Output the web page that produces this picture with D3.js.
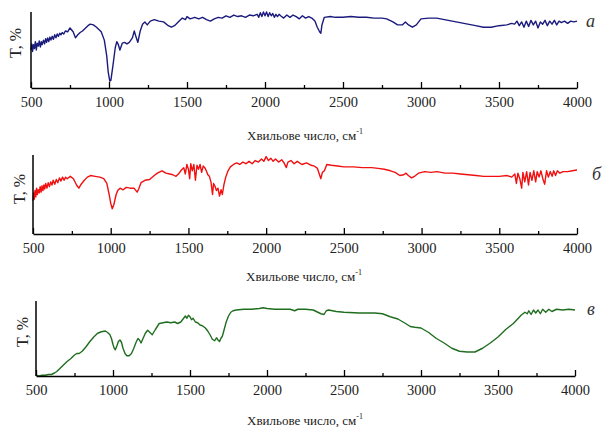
<!DOCTYPE html>
<html><head><meta charset="utf-8">
<script src="https://cdn.jsdelivr.net/npm/d3@7"></script>
<style>
body{margin:0;background:#fff;}
</style></head>
<body><svg id="c" width="604" height="427"></svg>
<script>
// Tick labels and axis texts
const majorTicks = [500,1000,1500,2000,2500,3000,3500,4000];
const minorTicks = [750,1250,1750,2250,2750,3250,3750];
const xTitle = "Хвильове число, см";
const xTitleSup = "-1";
const yTitle = "T, %";
const panelLetters = ["а","б","в"];
const seriesColors = ["#1b1b7d","#f01010","#1f6e1f"];

// Spectrum a: [wavenumber, T %]
const specA = [[500,50],[505,58],[510,48],[516,57],[522,52],[528,61],[534,50],[540,59],[547,55],[553,62],[560,54],[566,61],[572,57],[580,63],[587,58],[594,65],[600,60],[607,66],[614,61],[621,67],[628,63],[636,68],[644,64],[652,70],[660,66],[668,71],[676,68],[684,72],[692,70],[700,73],[710,71],[720,75],[735,74],[750,79],[770,74],[785,66],[800,70],[815,73],[830,75],[850,79],[865,82],[880,84],[900,83],[920,80],[950,74],[970,63],[985,43],[995,21],[1005,9],[1012,10],[1025,29],[1040,53],[1050,61],[1060,57],[1070,50],[1085,59],[1100,60],[1115,58],[1130,60],[1150,66],[1162,75],[1175,66],[1185,60],[1200,75],[1215,84],[1230,87],[1245,83],[1265,88],[1290,90],[1320,88],[1350,87],[1380,82],[1400,80],[1420,82],[1450,88],[1470,92],[1490,90],[1500,94],[1520,91],[1550,93],[1575,91],[1600,93],[1625,90],[1650,88],[1675,91],[1700,93],[1725,92],[1750,95],[1775,93],[1800,96],[1825,94],[1850,95],[1875,93],[1900,96],[1925,95],[1950,97],[1960,93],[1970,99],[1980,94],[1990,100],[2000,95],[2010,100],[2020,94],[2030,99],[2040,95],[2050,98],[2060,93],[2070,97],[2080,94],[2090,97],[2100,95],[2120,92],[2140,96],[2160,93],[2180,96],[2200,94],[2220,91],[2240,95],[2260,92],[2280,94],[2300,92],[2320,88],[2335,80],[2350,74],[2358,72],[2365,83],[2380,93],[2420,94],[2450,93],[2500,93],[2550,94],[2600,93],[2650,93],[2700,92],[2750,92],[2780,91],[2820,87],[2850,83],[2880,83],[2900,87],[2920,83],[2945,80],[2970,83],[3000,91],[3050,92],[3100,92],[3150,90],[3200,88],[3250,86],[3300,84],[3350,82],[3400,80],[3450,80],[3500,82],[3550,83],[3580,85],[3600,84],[3615,88],[3630,82],[3645,87],[3660,80],[3675,88],[3690,81],[3705,89],[3720,83],[3735,88],[3750,79],[3765,87],[3780,84],[3795,89],[3810,82],[3825,88],[3840,84],[3855,89],[3870,83],[3885,88],[3900,86],[3920,88],[3940,85],[3960,88],[3980,87],[4000,88]];

// Spectrum б
const specB = [[500,42],[504,52],[508,44],[513,55],[518,47],[523,58],[528,50],[534,56],[540,52],[546,60],[552,53],[558,61],[564,55],[570,62],[576,57],[582,64],[590,58],[598,65],[606,60],[614,66],[622,62],[630,68],[640,63],[650,69],[660,65],[670,71],[680,67],[690,72],[700,68],[710,72],[720,70],[740,73],[760,70],[780,62],[795,58],[810,63],[830,68],[850,72],[870,74],[900,73],[930,72],[955,70],[975,64],[990,50],[1000,39],[1010,32],[1020,37],[1035,50],[1045,55],[1060,58],[1080,56],[1100,59],[1125,58],[1150,58],[1170,53],[1180,57],[1195,65],[1220,68],[1250,69],[1280,74],[1300,77],[1330,80],[1355,77],[1380,76],[1400,75],[1420,73],[1440,77],[1455,81],[1470,84],[1480,76],[1490,88],[1500,82],[1508,70],[1515,89],[1525,80],[1535,88],[1545,68],[1555,87],[1565,82],[1575,88],[1585,78],[1595,86],[1605,84],[1615,80],[1625,75],[1635,73],[1645,66],[1655,50],[1662,64],[1672,60],[1680,55],[1690,58],[1700,48],[1710,56],[1718,50],[1728,62],[1740,72],[1755,80],[1770,85],[1790,88],[1810,90],[1830,88],[1850,91],[1870,89],[1890,92],[1910,89],[1930,93],[1950,91],[1970,95],[1985,92],[2000,98],[2015,93],[2030,96],[2045,92],[2060,95],[2080,91],[2100,94],[2115,90],[2130,84],[2140,91],[2160,93],[2180,89],[2200,92],[2230,88],[2260,90],[2290,87],[2310,86],[2330,83],[2345,74],[2352,70],[2362,78],[2375,80],[2390,88],[2420,87],[2460,86],[2500,85],[2560,85],[2620,84],[2680,84],[2720,83],[2760,82],[2800,80],[2830,78],[2860,74],[2885,75],[2900,77],[2915,74],[2935,71],[2955,73],[2980,77],[3020,79],[3060,78],[3100,79],[3150,77],[3200,77],[3250,76],[3300,75],[3350,74],[3400,73],[3450,73],[3500,73],[3550,74],[3580,72],[3600,76],[3610,64],[3620,77],[3632,70],[3644,58],[3652,78],[3664,66],[3676,79],[3688,62],[3698,78],[3710,68],[3722,80],[3734,66],[3744,79],[3756,72],[3768,80],[3780,70],[3792,63],[3804,80],[3816,72],[3828,79],[3840,73],[3850,80],[3862,74],[3874,80],[3890,77],[3910,79],[3940,79],[3970,80],[4000,81]];

// Spectrum в
const specC = [[500,1],[520,0],[540,1],[560,1],[580,2],[600,2],[620,4],[635,6],[650,9],[675,14],[700,19],[725,23],[750,28],[765,30],[780,30],[800,33],[825,39],[850,46],[875,52],[900,57],[925,59],[950,60],[965,58],[980,55],[990,50],[1000,42],[1008,37],[1015,35],[1025,40],[1035,46],[1045,48],[1055,45],[1065,37],[1078,30],[1090,27],[1105,27],[1120,30],[1135,37],[1150,45],[1162,50],[1172,48],[1182,44],[1195,50],[1210,57],[1225,61],[1240,58],[1255,55],[1275,62],[1300,70],[1325,71],[1350,72],[1375,71],[1400,72],[1420,70],[1440,72],[1455,76],[1470,80],[1480,77],[1490,81],[1500,79],[1510,75],[1520,77],[1535,72],[1550,71],[1565,68],[1580,67],[1600,64],[1615,60],[1630,55],[1645,49],[1660,47],[1672,51],[1682,48],[1692,46],[1700,50],[1710,53],[1722,62],[1735,72],[1750,80],[1765,85],[1780,87],[1800,88],[1850,89],[1900,89],[1950,90],[1975,91],[2000,90],[2050,89],[2100,89],[2150,89],[2180,87],[2200,89],[2250,89],[2300,88],[2330,85],[2350,83],[2370,82],[2385,87],[2400,88],[2450,86],[2500,85],[2600,84],[2700,84],[2750,83],[2800,79],[2850,76],[2900,70],[2930,66],[2960,65],[3000,64],[3050,58],[3100,50],[3150,44],[3200,37],[3250,33],[3300,32],[3350,32],[3400,37],[3450,44],[3500,52],[3550,62],[3600,70],[3650,81],[3675,85],[3690,83],[3700,87],[3715,82],[3730,88],[3745,84],[3760,88],[3775,83],[3790,89],[3810,85],[3830,89],[3850,86],[3880,89],[3920,88],[3960,89],[4000,88]];

const spectra = [specA, specB, specC];

// Layout
const layout = [
  {left:31, right:577, top:12,  bottom:88,  titleY:140, titleX:305, yLabX:21, yLabY:43,  letX:586, letY:27},
  {left:33, right:577, top:155, bottom:234, titleY:281, titleX:304, yLabX:25, yLabY:189, letX:592, letY:180},
  {left:36, right:575, top:301, bottom:376, titleY:425, titleX:305, yLabX:28, yLabY:332, letX:587, letY:315}
];

const FONT = "Liberation Serif";
const svg = d3.select("#c");

layout.forEach((L, i) => {
  const x = d3.scaleLinear().domain([500,4000]).range([L.left, L.right]);
  const y = d3.scaleLinear().domain([0,100]).range([L.bottom, L.top]);
  const g = svg.append("g");

  // spectrum
  const line = d3.line().x(d => x(d[0])).y(d => y(d[1]));
  g.append("path").datum(spectra[i])
    .attr("d", line).attr("fill","none")
    .attr("stroke", seriesColors[i]).attr("stroke-width",1.4)
    .attr("stroke-linejoin","round");

  // y axis line
  g.append("line").attr("x1",L.left).attr("x2",L.left)
    .attr("y1",L.top).attr("y2",L.bottom)
    .attr("stroke","#000").attr("stroke-width",1.5);

  // x axis major
  const ax = d3.axisBottom(x).tickValues(majorTicks).tickSizeInner(-6).tickSizeOuter(0).tickPadding(9).tickFormat(d3.format("d"));
  const axG = g.append("g").attr("transform",`translate(0,${L.bottom})`).call(ax)
    .attr("font-family", FONT).attr("font-size",14.5);
  axG.select(".domain").attr("stroke","#000").attr("stroke-width",1.5);
  axG.selectAll(".tick line").attr("stroke","#000").attr("stroke-width",1.3);
  axG.selectAll(".tick text").attr("fill","#222");

  // minor ticks
  const mx = d3.axisBottom(x).tickValues(minorTicks).tickSizeInner(-3).tickSizeOuter(0).tickFormat("");
  const mG = g.append("g").attr("transform",`translate(0,${L.bottom})`).call(mx);
  mG.select(".domain").remove();
  mG.selectAll(".tick line").attr("stroke","#000").attr("stroke-width",1.3);

  // x title
  const t = g.append("text").attr("x",L.titleX).attr("y",L.titleY)
    .attr("text-anchor","middle").attr("font-family",FONT).attr("font-size",13).attr("fill","#222");
  t.append("tspan").text(xTitle);
  t.append("tspan").attr("font-size",8).attr("dy",-6).text(xTitleSup);

  // y title
  g.append("text").attr("transform",`translate(${L.yLabX},${L.yLabY}) rotate(-90)`)
    .attr("text-anchor","middle").attr("font-family",FONT).attr("font-size",16).attr("fill","#222").text(yTitle);

  // panel letter
  g.append("text").attr("x",L.letX).attr("y",L.letY).attr("font-family",FONT)
    .attr("font-size",18).attr("font-style","italic").attr("fill","#333").text(panelLetters[i]);
});
</script></body></html>
